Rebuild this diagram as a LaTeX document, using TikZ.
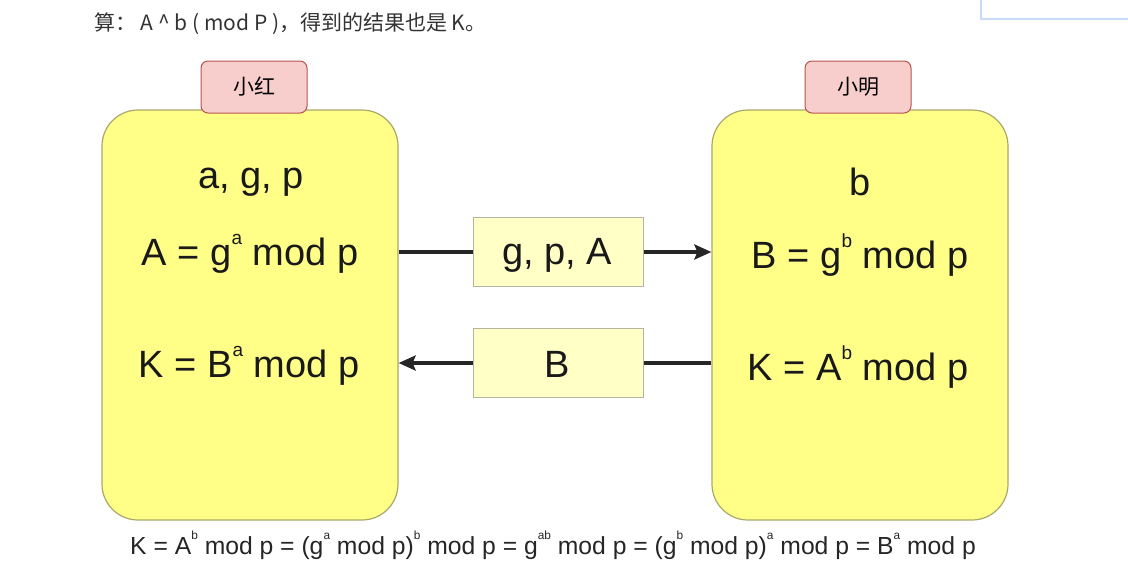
\documentclass[tikz,border=0pt]{standalone}
\usepackage{fontspec}
\setmainfont{Liberation Sans}
\newfontfamily\cjk{Noto Sans CJK SC}
\usetikzlibrary{arrows.meta}
\definecolor{partyfill}{HTML}{FFFF88}
\definecolor{partyline}{HTML}{A9A86A}
\definecolor{tagfill}{HTML}{F8CECC}
\definecolor{tagline}{HTML}{B85450}
\definecolor{msgfill}{HTML}{FFFFC6}
\definecolor{msgline}{HTML}{B4B4A2}
\definecolor{popline}{HTML}{C6DCFA}
\newcommand{\pw}[1]{\raisebox{0.53em}{\scalebox{0.5}{#1}}}
\newcommand{\spw}[1]{\raisebox{0.6em}{\scalebox{0.48}{#1}}}
\tikzset{party/.style={draw=partyline,fill=partyfill,line width=1.2pt,
    rounded corners=36pt,minimum width=296pt,minimum height=410pt},
    name tag/.style={draw=tagline,fill=tagfill,line width=1pt,rounded corners=7pt,
    minimum width=106pt,minimum height=52pt,font=\cjk\fontsize{21}{24}\selectfont},
    msg/.style={draw=msgline,fill=msgfill,line width=1pt,
    minimum width=170pt,minimum height=69pt},
    big/.style={anchor=base,inner sep=0pt,font=\fontsize{38}{42}\selectfont,text=black!90},
    wire/.style={line width=3.4pt,draw=black!85,-{Stealth[length=17pt,width=15pt,inset=3pt]}},
    }
\begin{document}
\begin{tikzpicture}[x=1pt,y=-1pt]
	\useasboundingbox (0,0) rectangle (1128,576);
	% top line and the cut-off box
	\node[anchor=base west,inner sep=0pt,font=\cjk\fontsize{21}{24}\selectfont,text=black!80] (line) at (94,30)
		{算：\ A \^{} b ( mod P )，得到的结果也是 K。};
	\filldraw[draw=popline,fill=white,line width=1.5pt] (981,-5) rectangle (1135,19);
	% the two parties
	\node[party] (hong) at (250,315) {};
	\node[party] (ming) at (860,315) {};
	\node[name tag] (hongtag) at (254,87) {小红};
	\node[name tag] (mingtag) at (858,87) {小明};
	\node[big] (ha) at (251,188) {a, g, p};
	\node[big] (hA) at (250,265) {A = g\pw{a} mod p};
	\node[big] (hK) at (249,377) {K = B\pw{a} mod p};
	\node[big] (mb) at (860,195) {b};
	\node[big] (mB) at (860,268) {B = g\pw{b} mod p};
	\node[big] (mK) at (858,380) {K = A\pw{b} mod p};
	% what goes over the wire
	\node[msg] (sendA) at (558,252) {};
	\node[msg] (sendB) at (558,363) {};
	\node[big] (sendAtxt) at (557,264) {g, p, A};
	\node[big] (sendBtxt) at (557,377) {B};
	\draw[wire,-] (sendA.west -| hong.east) -- (sendA.west);
	\draw[wire] (sendA.east) -- (sendA.east -| ming.west);
	\draw[wire,-] (sendB.east -| ming.west) -- (sendB.east);
	\draw[wire] (sendB.west) -- (sendB.west -| hong.east);
	\node[anchor=base,inner sep=0pt,font=\fontsize{24.7}{27}\selectfont,text=black!85] (same) at (553,554)
		{K = A\spw{b} mod p = (g\spw{a} mod p)\spw{b} mod p = g\spw{ab} mod p = (g\spw{b} mod p)\spw{a} mod p = B\spw{a} mod p};
\end{tikzpicture}
\end{document}
